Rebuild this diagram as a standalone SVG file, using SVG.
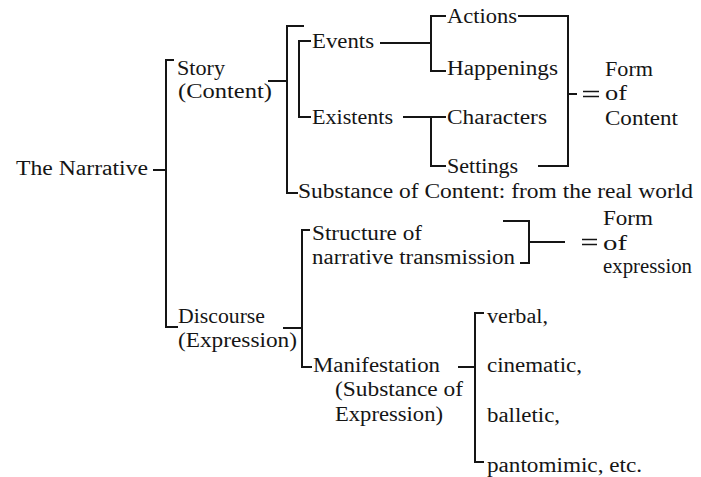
<svg xmlns="http://www.w3.org/2000/svg" width="701" height="477" viewBox="0 0 701 477">
<style>
.c path{fill:none;stroke:#151515;stroke-width:2;stroke-linecap:butt;stroke-linejoin:miter}
.c .eq{stroke-width:1.4}
</style>
<rect width="701" height="477" fill="#ffffff"/>
<g id="connectors" class="c">
<path d="M153,170 H166"/>
<path d="M174,60 H166 V327 H178"/>
<path d="M268,81 H287"/>
<path d="M304,26 H287 V193 H298"/>
<path d="M311,41 H299 V117 H311"/>
<path d="M380,43 H431"/>
<path d="M446,16 H431 V71 H446"/>
<path d="M403,117 H446"/>
<path d="M431,117 V166 H446"/>
<path d="M518,16 H568 V166 H538"/>
<path d="M568,94 H577"/>
<path class="eq" d="M583,91.5 H599 M583,96.5 H599"/>
<path d="M283,328 H302"/>
<path d="M310,230 H302 V367 H312"/>
<path d="M503,221 H529 V263 H520"/>
<path d="M529,242 H565"/>
<path class="eq" d="M582,239.5 H597 M582,244.5 H597"/>
<path d="M458,367 H475"/>
<path d="M484,313 H475 V462 H484"/>
</g>
<g font-family="Liberation Serif, DejaVu Serif, serif" font-size="20" fill="#151515">
<g id="narrative"><text x="16" y="175" textLength="132" lengthAdjust="spacingAndGlyphs">The Narrative</text></g>
<g id="story"><text x="177" y="75" textLength="48" lengthAdjust="spacingAndGlyphs">Story</text><text x="178" y="98" textLength="94" lengthAdjust="spacingAndGlyphs">(Content)</text></g>
<g id="events"><text x="312" y="48" textLength="62" lengthAdjust="spacingAndGlyphs">Events</text></g>
<g id="existents"><text x="312" y="124" textLength="81" lengthAdjust="spacingAndGlyphs">Existents</text></g>
<g id="actions"><text x="447" y="23" textLength="70" lengthAdjust="spacingAndGlyphs">Actions</text></g>
<g id="happenings"><text x="447" y="75" textLength="111" lengthAdjust="spacingAndGlyphs">Happenings</text></g>
<g id="characters"><text x="447" y="124" textLength="100" lengthAdjust="spacingAndGlyphs">Characters</text></g>
<g id="settings"><text x="447" y="173" textLength="71" lengthAdjust="spacingAndGlyphs">Settings</text></g>
<g id="form-of-content"><text x="605" y="76" textLength="48" lengthAdjust="spacingAndGlyphs">Form</text><text x="605" y="100" textLength="22" lengthAdjust="spacingAndGlyphs">of</text><text x="605" y="125" textLength="73" lengthAdjust="spacingAndGlyphs">Content</text></g>
<g id="substance-content"><text x="298" y="198" textLength="395" lengthAdjust="spacingAndGlyphs">Substance of Content:  from the real world</text></g>
<g id="discourse"><text x="178" y="323" textLength="87" lengthAdjust="spacingAndGlyphs">Discourse</text><text x="178" y="347" textLength="119" lengthAdjust="spacingAndGlyphs">(Expression)</text></g>
<g id="structure"><text x="312" y="240" textLength="110" lengthAdjust="spacingAndGlyphs">Structure of</text><text x="312" y="264" textLength="203" lengthAdjust="spacingAndGlyphs">narrative transmission</text></g>
<g id="form-of-expression"><text x="603" y="225" textLength="50" lengthAdjust="spacingAndGlyphs">Form</text><text x="603" y="250" textLength="24" lengthAdjust="spacingAndGlyphs">of</text><text x="603" y="273" textLength="89" lengthAdjust="spacingAndGlyphs">expression</text></g>
<g id="manifestation"><text x="313" y="372" textLength="127" lengthAdjust="spacingAndGlyphs">Manifestation</text><text x="335" y="396" textLength="128" lengthAdjust="spacingAndGlyphs">(Substance of</text><text x="335" y="421" textLength="108" lengthAdjust="spacingAndGlyphs">Expression)</text></g>
<g id="verbal"><text x="487" y="323" textLength="61" lengthAdjust="spacingAndGlyphs">verbal,</text></g>
<g id="cinematic"><text x="487" y="372" textLength="95" lengthAdjust="spacingAndGlyphs">cinematic,</text></g>
<g id="balletic"><text x="487" y="422" textLength="73" lengthAdjust="spacingAndGlyphs">balletic,</text></g>
<g id="pantomimic"><text x="487" y="472" textLength="155" lengthAdjust="spacingAndGlyphs">pantomimic, etc.</text></g>
</g>
</svg>
